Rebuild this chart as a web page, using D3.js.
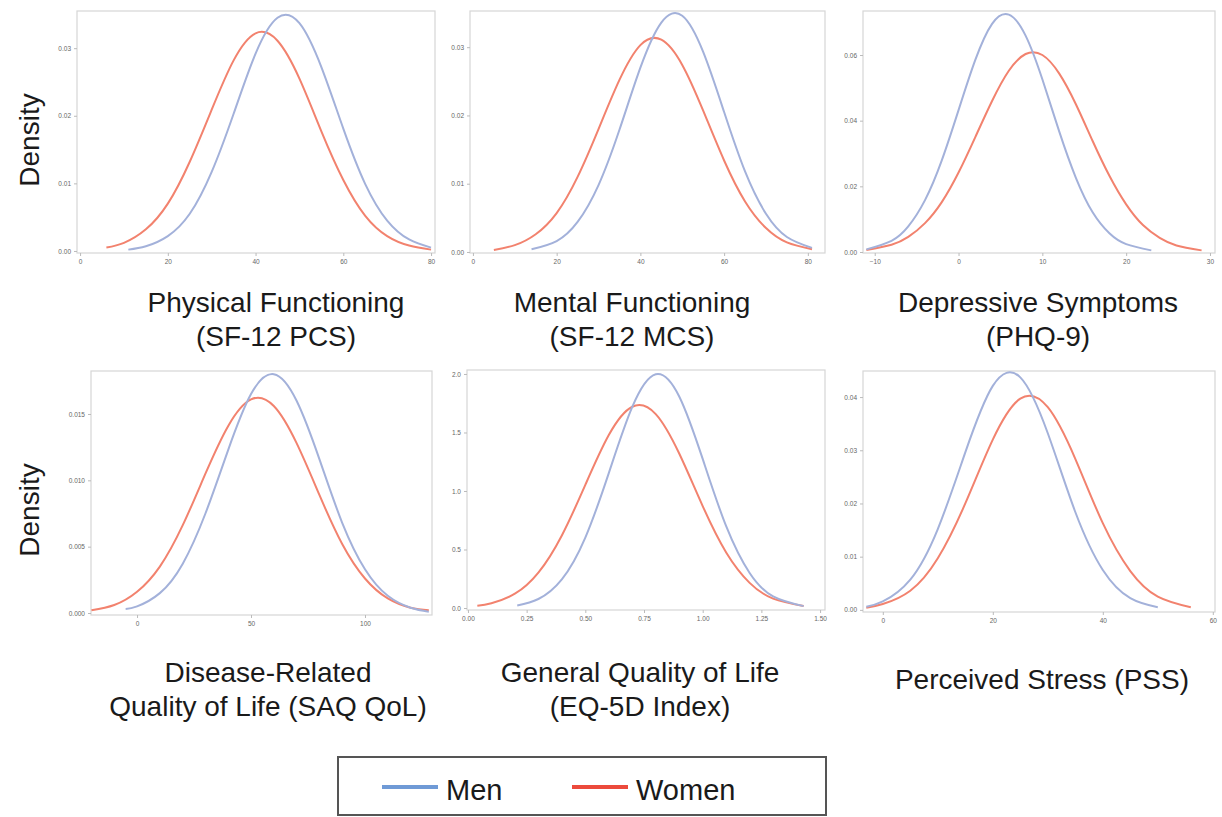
<!DOCTYPE html>
<html>
<head>
<meta charset="utf-8">
<script src="https://cdn.jsdelivr.net/npm/d3@7"></script>
<style>
  body { margin: 0; background: #fff; }
  svg { display: block; font-family: "Liberation Sans", Arial, sans-serif; }
</style>
</head>
<body>
<div id="chart"></div>
<script>
// density curves: [score, density]
const menPCS = [[11,0.0002],[15,0.0007],[20,0.0022],[25,0.0055],[30,0.0117],[35,0.0203],[40,0.0292],[45,0.0345],[50,0.0337],[55,0.0272],[60,0.0181],[65,0.0099],[70,0.0045],[75,0.0017],[80,0.0005]];
const womenPCS = [[6,0.0005],[10,0.0012],[15,0.0032],[20,0.0070],[25,0.0132],[30,0.0209],[35,0.0282],[40,0.0322],[45,0.0311],[50,0.0255],[55,0.0177],[60,0.0105],[65,0.0052],[70,0.0022],[75,0.0008],[80,0.0002]];

const menMCS = [[14,0.0004],[20,0.0016],[25,0.0044],[30,0.0098],[35,0.0179],[40,0.0270],[45,0.0336],[50,0.0346],[55,0.0293],[60,0.0205],[65,0.0118],[70,0.0056],[75,0.0022],[81,0.0006]];
const womenMCS = [[5,0.0003],[10,0.0010],[15,0.0026],[20,0.0057],[25,0.0110],[30,0.0180],[35,0.0252],[40,0.0303],[45,0.0311],[50,0.0274],[55,0.0207],[60,0.0134],[65,0.0074],[70,0.0035],[75,0.0014],[81,0.0004]];

const menPHQ = [[-11,0.0008],[-8,0.0034],[-6,0.0078],[-4,0.0158],[-2,0.0279],[0,0.0432],[2,0.0585],[4,0.0695],[6,0.0723],[8,0.0659],[10,0.0526],[12,0.0368],[14,0.0226],[16,0.0121],[18,0.0057],[20,0.0024],[23,0.0005]];
const womenPHQ = [[-11,0.0006],[-8,0.0022],[-6,0.0046],[-4,0.0088],[-2,0.0152],[0,0.0242],[2,0.0350],[4,0.0460],[6,0.0552],[8,0.0603],[10,0.0600],[12,0.0544],[14,0.0450],[16,0.0338],[18,0.0232],[20,0.0145],[22,0.0082],[24,0.0043],[26,0.0020],[29,0.0005]];

const menSAQ = [[-5,0.0003],[0,0.0005],[10,0.0015],[20,0.0037],[30,0.0075],[40,0.0123],[50,0.0165],[60,0.0180],[70,0.0160],[80,0.0116],[90,0.0068],[100,0.0033],[110,0.0013],[120,0.0004],[128,0.0001]];
const womenSAQ = [[-20,0.0002],[-10,0.0006],[0,0.0016],[10,0.0035],[20,0.0066],[30,0.0105],[40,0.0141],[50,0.0161],[60,0.0156],[70,0.0128],[80,0.0089],[90,0.0052],[100,0.0026],[110,0.0011],[120,0.0004],[128,0.0002]];

const menEQ = [[0.21,0.022],[0.3,0.077],[0.4,0.245],[0.5,0.602],[0.6,1.153],[0.7,1.719],[0.8,1.998],[0.9,1.808],[1.0,1.274],[1.1,0.699],[1.2,0.299],[1.3,0.099],[1.43,0.016]];
const womenEQ = [[0.04,0.019],[0.1,0.041],[0.2,0.122],[0.3,0.302],[0.4,0.620],[0.5,1.052],[0.6,1.478],[0.7,1.720],[0.8,1.657],[0.9,1.320],[1.0,0.871],[1.1,0.475],[1.2,0.215],[1.3,0.080],[1.43,0.017]];

const menPSS = [[-3,0.0006],[0,0.0016],[5,0.0057],[10,0.0152],[15,0.0296],[20,0.0421],[25,0.0437],[30,0.0332],[35,0.0184],[40,0.0075],[45,0.0022],[50,0.0005]];
const womenPSS = [[-3,0.0004],[0,0.0011],[5,0.0036],[10,0.0097],[15,0.0200],[20,0.0320],[25,0.0397],[30,0.0381],[35,0.0284],[40,0.0163],[45,0.0073],[50,0.0025],[56,0.0005]];

const panelTitles = [
  ["Physical Functioning", "(SF-12 PCS)"],
  ["Mental Functioning", "(SF-12 MCS)"],
  ["Depressive Symptoms", "(PHQ-9)"],
  ["Disease-Related", "Quality of Life (SAQ QoL)"],
  ["General Quality of Life", "(EQ-5D Index)"],
  ["Perceived Stress (PSS)"]
];
const xTicks = [
  [0, 20, 40, 60, 80],
  [0, 20, 40, 60, 80],
  [-10, 0, 10, 20, 30],
  [0, 50, 100],
  [0, 0.25, 0.5, 0.75, 1, 1.25, 1.5],
  [0, 20, 40, 60]
];
const yTicks = [
  [0, 0.01, 0.02, 0.03],
  [0, 0.01, 0.02, 0.03],
  [0, 0.02, 0.04, 0.06],
  [0, 0.005, 0.01, 0.015],
  [0, 0.5, 1, 1.5, 2],
  [0, 0.01, 0.02, 0.03, 0.04]
];
const xFormats = ["d", "d", "d", "d", ".2f", "d"];
const yFormats = [".2f", ".2f", ".2f", ".3f", ".1f", ".2f"];
const xDomains = [[-0.7, 80.9], [-0.7, 84.1], [-11.4, 30.6], [-20.2, 129.4], [-0.004, 1.521], [-3.6, 60.4]];
const yDomains = [[-0.0003, 0.0355], [-0.00015, 0.0353], [-0.0003, 0.0734], [-0.00015, 0.01824], [-0.017, 2.034], [-0.0004, 0.0449]];
const menSeries = [menPCS, menMCS, menPHQ, menSAQ, menEQ, menPSS];
const womenSeries = [womenPCS, womenMCS, womenPHQ, womenSAQ, womenEQ, womenPSS];
const legendLabels = ["Men", "Women"];

const W = 1222, H = 817;
const menColor = "#a3b1da", womenColor = "#f2826e";
const legendColors = ["#6f9ad6", "#ec4a3c"];

// plot frames in pixels: [left, top, right, bottom]
const frames = [
  [77, 11, 435, 253], [470, 11, 825, 253], [863, 11, 1215, 253],
  [91, 371, 432, 615], [467, 370, 825, 610], [863, 371, 1215, 612]
];
const titleCenters = [276, 632, 1038, 268, 640, 1042];

const svg = d3.select("#chart").append("svg")
  .attr("width", W).attr("height", H);

frames.forEach((f, i) => {
  const [l, t, r, b] = f;
  const x = d3.scaleLinear().domain(xDomains[i]).range([l, r]);
  const y = d3.scaleLinear().domain(yDomains[i]).range([b, t]);
  const g = svg.append("g");

  g.append("rect")
    .attr("x", l).attr("y", t)
    .attr("width", r - l).attr("height", b - t)
    .attr("fill", "none").attr("stroke", "#d6d6d6").attr("stroke-width", 1.2);

  const xAxis = g.append("g")
    .attr("transform", `translate(0,${b})`)
    .call(d3.axisBottom(x).tickValues(xTicks[i]).tickFormat(d3.format(xFormats[i])).tickSize(3).tickPadding(3));
  const yAxis = g.append("g")
    .attr("transform", `translate(${l},0)`)
    .call(d3.axisLeft(y).tickValues(yTicks[i]).tickFormat(d3.format(yFormats[i])).tickSize(3).tickPadding(3));
  [xAxis, yAxis].forEach(a => {
    a.select(".domain").remove();
    a.selectAll("line").attr("stroke", "#bbb");
    a.selectAll("text").attr("fill", "#666").style("font-size", "6.5px");
  });

  const line = d3.line()
    .x(d => x(d[0])).y(d => y(d[1]))
    .curve(d3.curveNatural);

  g.append("path").datum(womenSeries[i])
    .attr("d", line).attr("fill", "none")
    .attr("stroke", womenColor).attr("stroke-width", 2);
  g.append("path").datum(menSeries[i])
    .attr("d", line).attr("fill", "none")
    .attr("stroke", menColor).attr("stroke-width", 2);

  // panel title below
  const lines = panelTitles[i];
  const ty = i < 3 ? 312 : (lines.length > 1 ? 682 : 689);
  lines.forEach((s, k) => {
    svg.append("text")
      .attr("x", titleCenters[i]).attr("y", ty + k * 34)
      .attr("text-anchor", "middle")
      .attr("fill", "#1a1a1a")
      .style("font-size", "28px")
      .text(s);
  });
});

// y axis titles
[140, 510].forEach(cy => {
  svg.append("text")
    .attr("transform", `translate(39,${cy}) rotate(-90)`)
    .attr("text-anchor", "middle")
    .attr("fill", "#1a1a1a")
    .style("font-size", "28px")
    .text("Density");
});

// legend
const lg = svg.append("g");
lg.append("rect")
  .attr("x", 338).attr("y", 757).attr("width", 488).attr("height", 58)
  .attr("fill", "#fff").attr("stroke", "#555").attr("stroke-width", 2);
const legendX = [382, 572];
legendLabels.forEach((s, k) => {
  lg.append("line")
    .attr("x1", legendX[k]).attr("x2", legendX[k] + 56)
    .attr("y1", 787).attr("y2", 787)
    .attr("stroke", legendColors[k]).attr("stroke-width", 4);
  lg.append("text")
    .attr("x", legendX[k] + 64).attr("y", 800)
    .attr("fill", "#1a1a1a")
    .style("font-size", "29px")
    .text(s);
});
</script>
</body>
</html>
